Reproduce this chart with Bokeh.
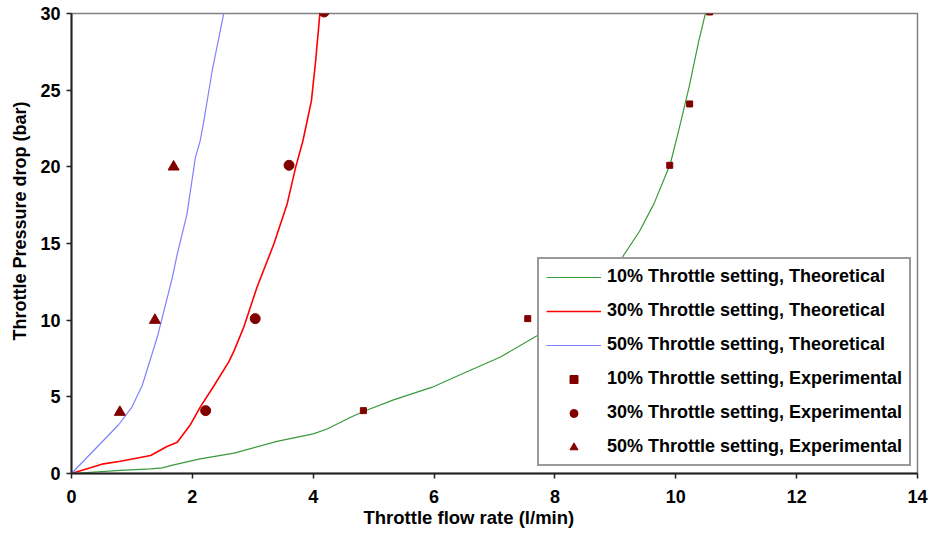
from bokeh.plotting import figure
from bokeh.models import Range1d, FixedTicker, Legend, LegendItem, Title
from bokeh.embed import file_html
from bokeh.resources import INLINE

# Theoretical curves: flow rate (l/min) vs pressure drop (bar)
theo10_x = [0, 0.81, 1.31, 1.5, 1.69, 2.13, 2.69, 3.4, 4.0, 4.23, 4.62, 4.84, 5.33, 5.97,
            6.44, 7.1, 7.71, 8.2, 8.7, 9.11, 9.4, 9.64, 9.91, 10.05, 10.22, 10.38, 10.49, 10.55]
theo10_y = [0, 0.2, 0.3, 0.37, 0.56, 0.95, 1.33, 2.1, 2.58, 2.9, 3.67, 4.06, 4.8, 5.63,
            6.46, 7.6, 9.0, 10.6, 12.3, 14.07, 15.8, 17.6, 20.2, 22.4, 25.2, 28.2, 30.0, 30.6]

theo30_x = [0, 0.53, 0.81, 1.31, 1.58, 1.75, 1.97, 2.13, 2.36, 2.6, 2.69, 2.85, 3.07,
            3.35, 3.57, 3.71, 3.83, 3.97, 4.04, 4.11, 4.13]
theo30_y = [0, 0.63, 0.8, 1.17, 1.76, 2.04, 3.2, 4.33, 5.74, 7.26, 8.0, 9.54, 12.15,
            14.98, 17.6, 19.98, 21.7, 24.3, 26.9, 29.99, 30.6]

theo50_x = [0, 0.26, 0.78, 1.0, 1.17, 1.42, 1.67, 1.75, 1.91, 2.05, 2.13, 2.19, 2.33, 2.54]
theo50_y = [0, 1.06, 3.18, 4.33, 5.74, 8.9, 12.8, 14.3, 16.9, 20.6, 21.7, 23.0, 26.3, 30.4]

# Experimental measurements
exp10_x = [4.83, 7.55, 9.9, 10.23, 10.56]
exp10_y = [4.1, 10.1, 20.1, 24.1, 30.1]
exp30_x = [2.22, 3.04, 3.6, 4.18]
exp30_y = [4.1, 10.1, 20.1, 30.1]
exp50_x = [0.8, 1.38, 1.69]
exp50_y = [4.0, 10.0, 20.0]

x_ticks = [0, 2, 4, 6, 8, 10, 12, 14]
y_ticks = [0, 5, 10, 15, 20, 25, 30]

FONT = "Liberation Sans"
MARK = "#800000"

p = figure(frame_width=846, frame_height=460, output_backend="svg", toolbar_location=None,
           x_range=Range1d(0, 14), y_range=Range1d(0, 30),
           min_border_left=71, min_border_right=13, min_border_top=13, min_border_bottom=62)
p.background_fill_color = "white"
p.border_fill_color = "white"
p.outline_line_color = "#808080"
p.outline_line_width = 1.5
p.xgrid.visible = False
p.ygrid.visible = False

for ax, ticks in ((p.xaxis[0], x_ticks), (p.yaxis[0], y_ticks)):
    ax.ticker = FixedTicker(ticks=ticks)
    ax.minor_tick_line_color = None
    ax.major_tick_in = 0
    ax.major_tick_out = 5
    ax.major_tick_line_color = "#222222"
    ax.major_tick_line_width = 1.5
    ax.axis_line_color = "#222222"
    ax.axis_line_width = 2
    ax.major_label_text_font = FONT
    ax.major_label_text_font_style = "bold"
    ax.major_label_text_font_size = "18px"
    ax.major_label_text_color = "black"

p.xaxis.major_label_standoff = 11
p.yaxis.major_label_standoff = 6

# Axis titles as side titles, shifted along their axes
p.add_layout(Title(text="Throttle flow rate (l/min)", align="left", offset=292,
                   vertical_align="middle", standoff=0,
                   text_font=FONT, text_font_style="bold", text_font_size="18.5px",
                   text_color="black"), "below")
p.add_layout(Title(text="Throttle Pressure drop (bar)", align="left", offset=133,
                   vertical_align="middle", standoff=13,
                   text_font=FONT, text_font_style="bold", text_font_size="18px",
                   text_color="black"), "left")

g10 = p.line(theo10_x, theo10_y, line_color="#3a9a3a", line_width=1.2)
g30 = p.line(theo30_x, theo30_y, line_color="#ff0000", line_width=1.6)
g50 = p.line(theo50_x, theo50_y, line_color="#8080ff", line_width=1.2)
m10 = p.scatter(exp10_x, exp10_y, marker="square", size=6, color=MARK)
m30 = p.scatter(exp30_x, exp30_y, marker="circle", size=10, color=MARK)
m50 = p.scatter(exp50_x, exp50_y, marker="triangle", size=11, color=MARK)

legend = Legend(items=[
    LegendItem(label="10% Throttle setting, Theoretical", renderers=[g10]),
    LegendItem(label="30% Throttle setting, Theoretical", renderers=[g30]),
    LegendItem(label="50% Throttle setting, Theoretical", renderers=[g50]),
    LegendItem(label="10% Throttle setting, Experimental", renderers=[m10]),
    LegendItem(label="30% Throttle setting, Experimental", renderers=[m30]),
    LegendItem(label="50% Throttle setting, Experimental", renderers=[m50]),
], location=(466, 7))
legend.label_text_font = FONT
legend.label_text_font_style = "bold"
legend.label_text_font_size = "18px"
legend.label_text_color = "black"
legend.glyph_width = 55
legend.glyph_height = 20
legend.label_height = 20
legend.label_standoff = 6
legend.spacing = 13
legend.padding = 7
legend.margin = 0
legend.border_line_color = "#333333"
legend.border_line_width = 2
legend.background_fill_color = "white"
legend.background_fill_alpha = 1
p.add_layout(legend, "center")

open("out.html", "w").write(file_html(p, INLINE))
